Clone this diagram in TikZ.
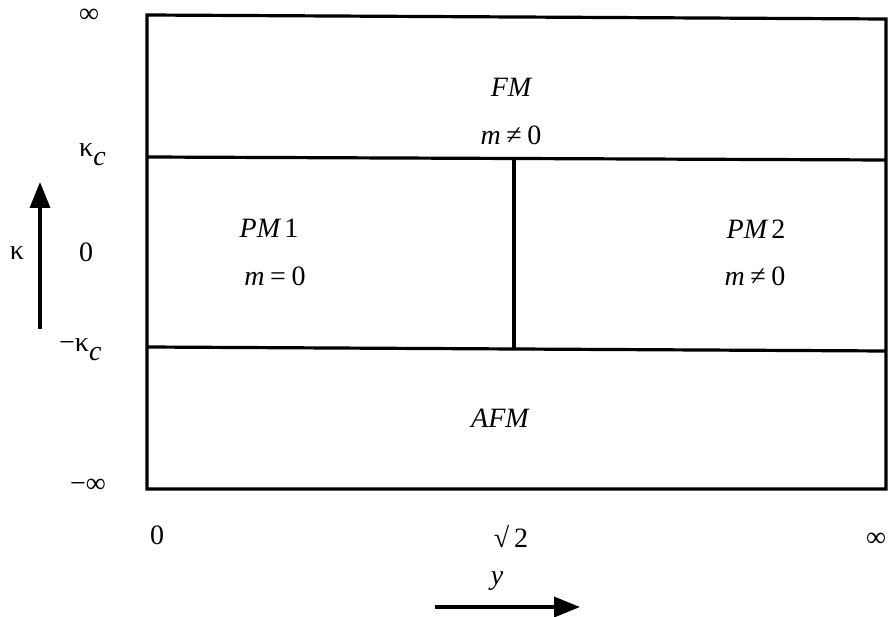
\documentclass[tikz,border=0pt]{standalone}
\usepackage{fontspec}
\setmainfont{Liberation Serif}
\usetikzlibrary{arrows.meta}
\newcommand{\rsp}{\hspace{0.2em}}
\begin{document}
\begin{tikzpicture}[x=1pt,y=-1pt,
  frame/.style={line width=3.2pt},
  lbl/.style={inner sep=0pt,font=\fontsize{28}{30}\selectfont},
  reg/.style={inner sep=0pt,anchor=base,font=\fontsize{28}{30}\selectfont\itshape},
  axarrow/.style={line width=3.6pt,-{Triangle[length=26pt,width=20pt]}}]
\useasboundingbox (0,0) rectangle (889,617);
% frame
\draw[frame] (147,15) -- (886,19) -- (886,489) -- (147,489) -- cycle;
\coordinate (h1l) at (147,157);
\coordinate (h1r) at (886,160);
\coordinate (h2l) at (147,347);
\coordinate (h2r) at (886,351);
\coordinate (vt) at (514,158);
\coordinate (vb) at (514,349);
\draw[frame] (h1l) -- (h1r);
\draw[frame] (h2l) -- (h2r);
\draw[frame] (vt) -- (vb);
% region labels
\node[reg] (fm) at (511,97) {FM};
\node[reg] (fmm) at (511,145) {m\rsp{\upshape ≠\rsp 0}};
\node[reg] (pm1) at (269,238) {PM\hspace{0.15em}{\upshape 1}};
\node[reg] (pm1m) at (275,286) {m\rsp{\upshape =\rsp 0}};
\node[reg] (pm2) at (756,239) {PM\hspace{0.15em}{\upshape 2}};
\node[reg] (pm2m) at (755,286) {m\rsp{\upshape ≠\rsp 0}};
\node[reg] (afm) at (500,428) {AFM};
% axis labels
\node[lbl] (yinf) at (89,16) {∞};
\node[lbl,anchor=base west] (kc) at (79,157) {κ\raisebox{-9pt}{\itshape c}};
\node[lbl,anchor=base] (y0) at (86,262) {0};
\node[lbl,anchor=base west] (mkc) at (59,352) {−κ\raisebox{-9pt}{\itshape c}};
\node[lbl] (yminf) at (88,486) {−∞};
\node[lbl,anchor=base] (x0) at (157,544) {0};
\node[lbl,anchor=base] (xs2) at (511,547) {√\,2};
\node[lbl] (xinf) at (876,540) {∞};
% kappa axis
\node[lbl,anchor=base] (kap) at (17,260) {κ};
\coordinate (ka) at (40,329);
\coordinate (kb) at (40,182);
\draw[axarrow] (ka) -- (kb);
% y axis
\node[reg] (ylab) at (497,584) {y};
\coordinate (ya) at (435,607);
\coordinate (yb) at (580,607);
\draw[axarrow] (ya) -- (yb);
\end{tikzpicture}
\end{document}
